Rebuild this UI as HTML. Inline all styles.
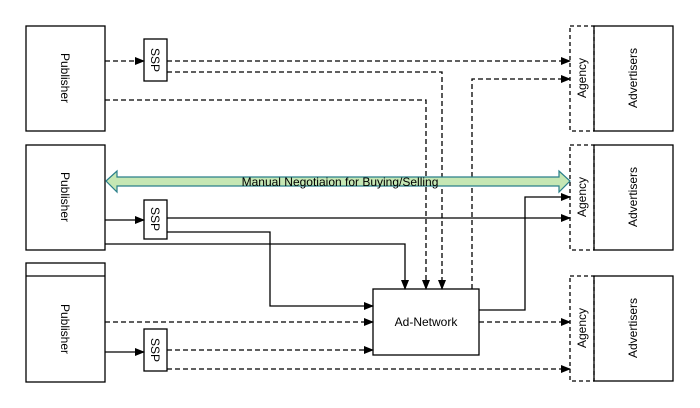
<!DOCTYPE html>
<html><head><style>body{margin:0;background:#fff}svg{display:block}</style></head><body>
<svg width="700" height="408" xmlns="http://www.w3.org/2000/svg" font-family="Liberation Sans, sans-serif" font-size="12">
<defs><marker id="a" markerWidth="10" markerHeight="8" refX="9" refY="4" orient="auto" markerUnits="userSpaceOnUse"><path d="M0,0L10,4L0,8z" fill="#000"/></marker></defs>
<g fill="#fff" stroke="#000" stroke-width="1.3">
<rect x="26" y="26" width="79" height="105"/>
<rect x="26" y="145" width="79" height="105"/>
<rect x="26" y="263" width="79" height="119"/><line x1="26" y1="276" x2="105" y2="276"/>
<rect x="144" y="39" width="23" height="42"/>
<rect x="144" y="200" width="23" height="39"/>
<rect x="144" y="329" width="23" height="42"/>
<rect x="594" y="26" width="79" height="105"/>
<rect x="594" y="145" width="79" height="105"/>
<rect x="594" y="276" width="79" height="105"/>
<rect x="373" y="289" width="106" height="66"/>
</g>
<g fill="none" stroke="#000" stroke-width="1.3" stroke-dasharray="4,3">
<rect x="570" y="26" width="24" height="105"/>
<rect x="570" y="145" width="24" height="105"/>
<rect x="570" y="276" width="24" height="105"/>
</g>
<g fill="none" stroke="#000" stroke-width="1.3" stroke-dasharray="5,3" marker-end="url(#a)">
<path d="M105,61H144"/>
<path d="M167,61H570"/>
<path d="M167,72H442V289"/>
<path d="M105,100H426V289"/>
<path d="M472,289V79H570"/>
<path d="M105,322H373"/>
<path d="M167,350H373"/>
<path d="M167,369H570"/>
<path d="M479,322H570"/>
</g>
<g fill="none" stroke="#000" stroke-width="1.3" marker-end="url(#a)">
<path d="M105,220H144"/>
<path d="M167,218H570"/>
<path d="M167,232H270V306H373"/>
<path d="M105,244H405V289"/>
<path d="M479,310H525V197H570"/>
<path d="M105,352H144"/>
</g>
<path d="M106,181L117,171V177H559V171L570,181L559,192V186H117V192Z" fill="#c6e7b4" stroke="#2a7f8a" stroke-width="1.2"/>
<text x="340" y="186" text-anchor="middle">Manual Negotiaion for Buying/Selling</text>
<g text-anchor="middle">
<text transform="translate(61,78) rotate(90)">Publisher</text>
<text transform="translate(61,197) rotate(90)">Publisher</text>
<text transform="translate(61,329) rotate(90)">Publisher</text>
<text transform="translate(151,60) rotate(90)">SSP</text>
<text transform="translate(151,219) rotate(90)">SSP</text>
<text transform="translate(151,350) rotate(90)">SSP</text>
<text transform="translate(586,78) rotate(-90)">Agency</text>
<text transform="translate(586,197) rotate(-90)">Agency</text>
<text transform="translate(586,328) rotate(-90)">Agency</text>
<text transform="translate(637,78) rotate(-90)">Advertisers</text>
<text transform="translate(637,197) rotate(-90)">Advertisers</text>
<text transform="translate(637,328) rotate(-90)">Advertisers</text>
<text x="426" y="326">Ad-Network</text>
</g>
</svg>
</body></html>
